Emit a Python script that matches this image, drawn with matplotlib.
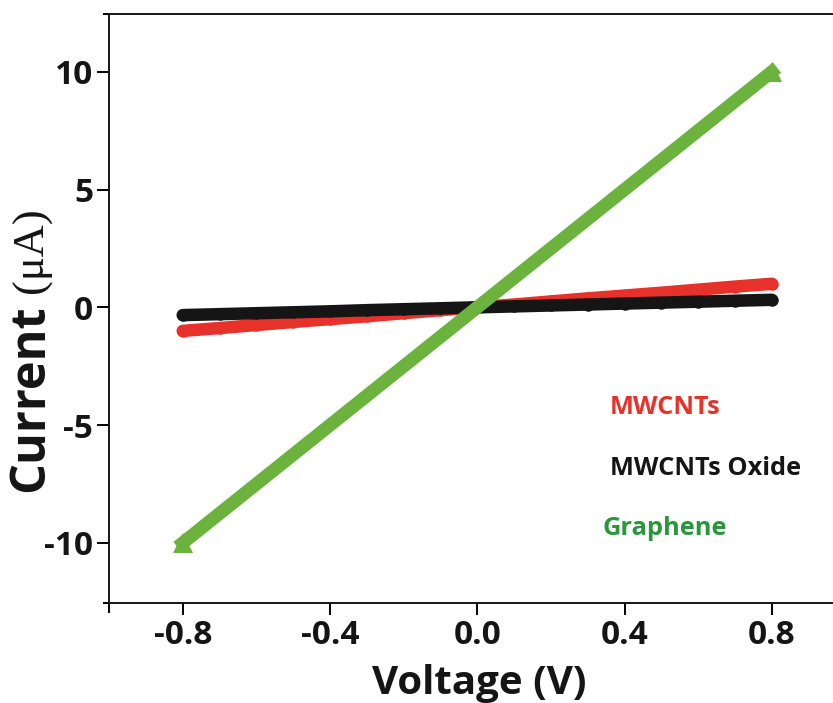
import matplotlib.pyplot as plt

plt.rcParams['font.family'] = ['Open Sans', 'DejaVu Sans']

# I-V sweep, current in uA
voltage = [-0.8, -0.7, -0.6, -0.5, -0.4, -0.3, -0.2, -0.1, 0.0,
           0.1, 0.2, 0.3, 0.4, 0.5, 0.6, 0.7, 0.8]
i_mwcnt = [-1.0, -0.88, -0.75, -0.62, -0.5, -0.38, -0.25, -0.12, 0.0,
           0.12, 0.25, 0.38, 0.5, 0.62, 0.75, 0.88, 1.0]
i_mwcnt_ox = [-0.33, -0.29, -0.25, -0.21, -0.17, -0.12, -0.08, -0.04, 0.0,
              0.04, 0.08, 0.12, 0.16, 0.2, 0.24, 0.28, 0.32]
i_graphene = [-10.0, -8.75, -7.5, -6.25, -5.0, -3.75, -2.5, -1.25, 0.0,
              1.25, 2.5, 3.75, 5.0, 6.25, 7.5, 8.75, 10.0]

labels = ['MWCNTs', 'MWCNTs Oxide', 'Graphene']
line_colors = ['#e6322a', '#151515', '#6cb33e']
text_colors = ['#e6322a', '#151515', '#2b973d']

W, H = 833, 703
fig = plt.figure(figsize=(W / 100, H / 100), dpi=100)
ax = fig.add_axes([0.1309, 0.1422, 0.8691, 0.8379])

ax.plot(voltage, i_mwcnt, color=line_colors[0], lw=9, marker='o', ms=9,
        mew=0, solid_capstyle='round')
ax.plot(voltage, i_mwcnt_ox, color=line_colors[1], lw=9, marker='o', ms=9,
        mew=0, solid_capstyle='round')
ax.plot(voltage, i_graphene, color=line_colors[2], lw=9.5, marker='^', ms=14,
        mew=0, markevery=[0, len(voltage) - 1])

ax.set_xlim(-1.0, 0.966)
ax.set_ylim(-12.55, 12.45)

ax.set_xticks([-0.8, -0.4, 0.0, 0.4, 0.8])
ax.set_xticklabels(['-0.8', '-0.4', '0.0', '0.4', '0.8'])
ax.set_yticks([-10, -5, 0, 5, 10])
ax.set_yticklabels(['-10', '-5', '0', '5', '10'])

# short stubs where the frame lines cross
ax.set_xticks([-1.0], minor=True)
ax.set_yticks([-12.55, 12.45], minor=True)
ax.tick_params(axis='x', which='minor', length=7.5, width=1.4, direction='out')
ax.tick_params(axis='y', which='minor', length=4.5, width=1.4, direction='out')

ax.tick_params(axis='both', which='major', direction='out', length=8.5,
               width=1.4, labelsize=24, pad=3)
for lab in ax.get_xticklabels() + ax.get_yticklabels():
    lab.set_fontweight('bold')
    lab.set_color('#151515')

for side in ['left', 'bottom', 'top']:
    ax.spines[side].set_linewidth(1.4)
    ax.spines[side].set_color('#151515')
ax.spines['right'].set_visible(False)

ax.set_xlabel('Voltage (V)', fontsize=29, fontweight='bold', color='#151515')
ax.xaxis.set_label_coords(0.511, -0.103)

# y label: bold word plus serif unit
fig.text(43 / W, 1 - 398 / H, 'Current', rotation=90, rotation_mode='anchor',
         ha='center', va='baseline', fontsize=35, fontweight='bold',
         color='#151515')
fig.text(43 / W, 1 - 250 / H, '(μA)', rotation=90, rotation_mode='anchor',
         ha='center', va='baseline', fontsize=32, family='Liberation Serif',
         color='#151515')

label_y = [-4.25, -6.84, -9.39]
label_x = [0.36, 0.36, 0.341]
for txt, c, lx, ly in zip(labels, text_colors, label_x, label_y):
    ax.text(lx, ly, txt, color=c, fontsize=18.3, fontweight='bold',
            va='center', ha='left')

fig.savefig('out.png', dpi=100)
